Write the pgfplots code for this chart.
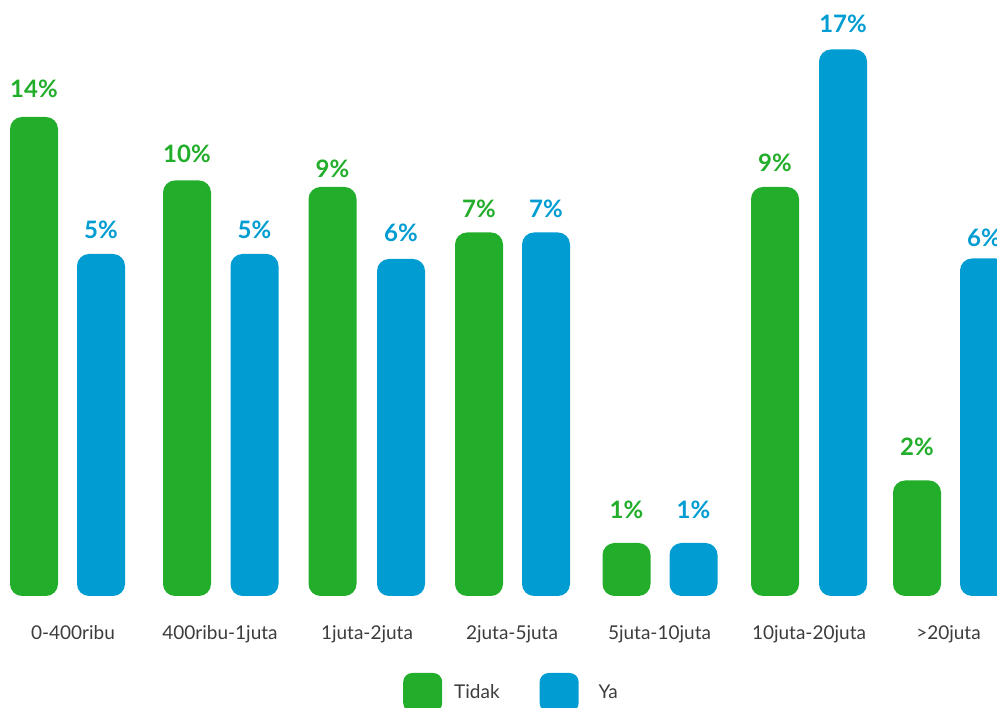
\documentclass[border=0pt]{standalone}
\usepackage{pgfplots}
\pgfplotsset{compat=1.18}
\usepackage{fontspec}
\setmainfont{Lato}
\definecolor{tidak}{RGB}{34,173,42}
\definecolor{ya}{RGB}{0,156,210}
\definecolor{txt}{RGB}{60,60,60}
\begin{document}
\begin{tikzpicture}
\begin{axis}[
  scale only axis, width=997pt, height=596pt,
  xmin=0, xmax=997, ymin=0, ymax=596,
  axis line style={draw=none}, tick style={draw=none},
  ytick=\empty,
  xtick={73,220,367,512,659.5,809,948.5},
  xticklabels={0-400ribu,400ribu-1juta,1juta-2juta,2juta-5juta,5juta-10juta,10juta-20juta,>20juta},
  xticklabel style={anchor=base, yshift=-44pt, font=\fontsize{19}{23}\selectfont, text=txt},
  legend columns=2,
  legend style={draw=none, fill=none, inner sep=0pt, at={(axis cs:403,-96.5)}, anchor=west,
    font=\fontsize{19}{23}\selectfont, text=txt,
    /tikz/every odd column/.append style={column sep=10pt},
    /tikz/every even column/.append style={column sep=38pt}},
]
\addplot[ybar, bar width=48, bar shift=0pt, fill=tidak, draw=none, rounded corners=12pt,
  legend image code/.code={\fill[tidak, rounded corners=9pt] (0pt,-19.5pt) rectangle (39pt,19.5pt);}]
  coordinates {(34,479) (187,415.5) (332.5,409) (479,363.5) (626.5,53) (775,409) (917,115.5)};
\addlegendentry{Tidak}
\addplot[ybar, bar width=48, bar shift=0pt, fill=ya, draw=none, rounded corners=12pt,
  legend image code/.code={\fill[ya, rounded corners=9pt] (0pt,-19.5pt) rectangle (39pt,19.5pt);}]
  coordinates {(101,342) (254.5,342) (401,337) (546,363.5) (693.5,53) (843,546.5) (984,337.5)};
\addlegendentry{\hspace{8pt}Ya}
% value labels
\addplot[forget plot, draw=none, mark=none, nodes near coords, point meta=explicit symbolic,
  nodes near coords style={anchor=base, text=tidak, font=\fontsize{24}{28}\selectfont\bfseries}]
  table[meta=lab] {
x y lab
34 498 14\%
187 433 10\%
332.5 418 9\%
479 378 7\%
626.5 77 1\%
775 424 9\%
917 140 2\%
};
\addplot[forget plot, draw=none, mark=none, nodes near coords, point meta=explicit symbolic,
  nodes near coords style={anchor=base, text=ya, font=\fontsize{24}{28}\selectfont\bfseries}]
  table[meta=lab] {
x y lab
101 357 5\%
254.5 357 5\%
401 354 6\%
546 378 7\%
693.5 77 1\%
843 563 17\%
984 349 6\%
};
\coordinate (bl) at (axis cs:0,-112);
\coordinate (tr) at (axis cs:997,596);
\end{axis}
\pgfresetboundingbox
\useasboundingbox (bl) rectangle (tr);
\end{tikzpicture}
\end{document}
